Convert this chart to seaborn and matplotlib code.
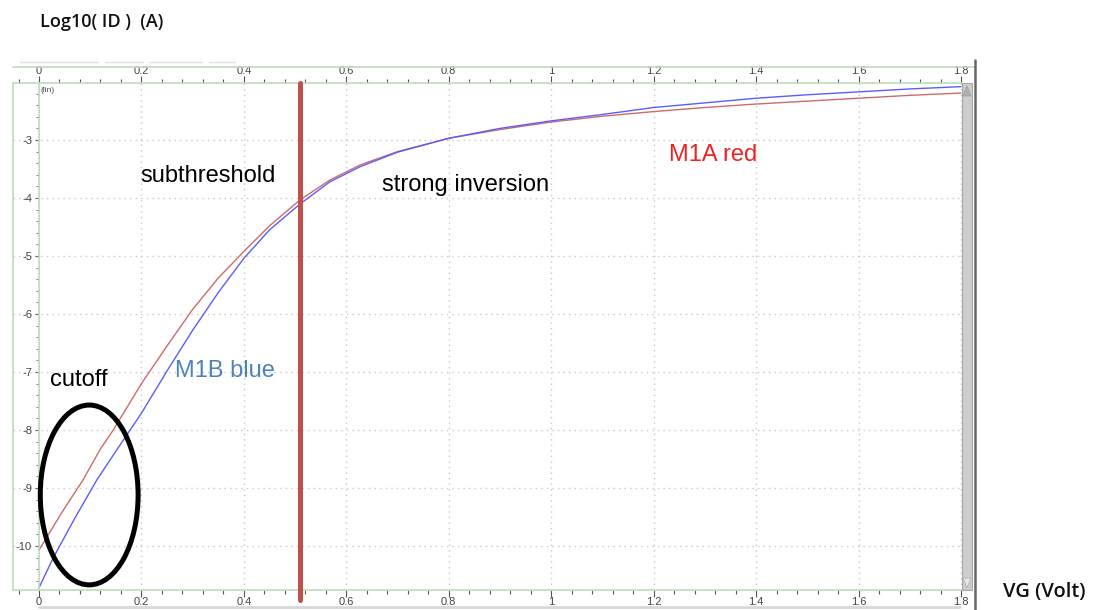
import numpy as np
import pandas as pd
import matplotlib
matplotlib.use("Agg")
import matplotlib.pyplot as plt
import seaborn as sns
from matplotlib.patches import Ellipse, Rectangle, Polygon
from matplotlib.lines import Line2D
from matplotlib.ticker import MultipleLocator, FixedLocator

# ---------------- data ----------------
vg_red = [0.0, 0.044, 0.086, 0.119, 0.145, 0.2, 0.25, 0.3, 0.35, 0.4, 0.45, 0.51,
          0.568, 0.627, 0.7, 0.8, 0.9, 1.0, 1.1, 1.2, 1.3, 1.4, 1.5, 1.6, 1.7, 1.8]
log_id_red = [-10.07, -9.43, -8.86, -8.34, -8.0, -7.2, -6.55, -5.92, -5.38, -4.92, -4.48, -4.03,
              -3.69, -3.43, -3.2, -2.97, -2.82, -2.69, -2.59, -2.51, -2.44, -2.38, -2.33,
              -2.28, -2.23, -2.19]
vg_blue = [0.0, 0.028, 0.07, 0.113, 0.152, 0.2, 0.25, 0.3, 0.35, 0.4, 0.45, 0.51,
           0.568, 0.627, 0.7, 0.8, 0.9, 1.0, 1.1, 1.2, 1.3, 1.4, 1.5, 1.6, 1.7, 1.8]
log_id_blue = [-10.72, -10.2, -9.52, -8.86, -8.34, -7.71, -6.98, -6.28, -5.63, -5.04, -4.55, -4.1,
               -3.72, -3.46, -3.21, -2.97, -2.8, -2.67, -2.56, -2.44, -2.36, -2.28,
               -2.22, -2.17, -2.12, -2.08]
series_names = ["M1A red", "M1B blue"]
x_ticks = [0, 0.2, 0.4, 0.6, 0.8, 1, 1.2, 1.4, 1.6, 1.8]
x_tick_labels = ["0", "0.2", "0.4", "0.6", "0.8", "1", "1.2", "1.4", "1.6", "1.8"]
y_ticks = [-10, -9, -8, -7, -6, -5, -4, -3]
vth = 0.51
region_labels = ["subthreshold", "strong inversion", "cutoff"]

df = pd.concat([
    pd.DataFrame({"VG": vg_red, "logID": log_id_red, "dev": series_names[0]}),
    pd.DataFrame({"VG": vg_blue, "logID": log_id_blue, "dev": series_names[1]}),
])

# ---------------- figure ----------------
sns.set_style("white")
plt.rcParams["font.family"] = ["Liberation Sans", "DejaVu Sans"]
plt.rcParams["axes.unicode_minus"] = False
W, H = 1096, 610
fig = plt.figure(figsize=(W / 100, H / 100), dpi=100)

def fx(px):
    return px / W

def fy(py):
    return 1 - py / H

L, R, T, B = 13, 962, 83, 590
ax = fig.add_axes([fx(L), fy(B), fx(R) - fx(L), fy(T) - fy(B)])

sns.lineplot(data=df, x="VG", y="logID", hue="dev",
             palette={series_names[0]: "#cc6b6b", series_names[1]: "#5c5cff"},
             linewidth=1.0, legend=False, ax=ax, sort=True, estimator=None)

px_per_unit = (961 - 39) / 1.8
ax.set_xlim(-(39 - L) / px_per_unit, (R - 39) / px_per_unit)
ax.set_ylim(-3 - (B - 140) / 58, -3 + (140 - T) / 58)
ax.set_xlabel("")
ax.set_ylabel("")

green = "#bcdcbc"
for s in ["top", "bottom", "right", "left"]:
    ax.spines[s].set_color(green)
    ax.spines[s].set_linewidth(1.2)
ax.spines["right"].set_visible(False)
ax.spines["left"].set_position(("data", 0))
ax.add_line(Line2D([0, 0], [0, 1], transform=ax.transAxes, color=green, lw=1.2, clip_on=False))

ax.xaxis.set_major_locator(FixedLocator(x_ticks))
ax.set_xticklabels(x_tick_labels)
ax.xaxis.set_minor_locator(MultipleLocator(0.04))
ax.yaxis.set_major_locator(FixedLocator(y_ticks))
ax.yaxis.set_minor_locator(MultipleLocator(0.2))

ax.tick_params(axis="x", which="both", top=True, bottom=True, labeltop=True, labelbottom=True,
               direction="out", color="#555555", labelsize=8, labelcolor="#444444")
ax.tick_params(axis="x", which="major", length=5, width=0.8, pad=0)
ax.tick_params(axis="x", which="minor", length=3, width=0.8)
ax.tick_params(axis="y", which="both", left=True, direction="out", color="#666666",
               labelsize=8, labelcolor="#444444")
ax.tick_params(axis="y", which="major", length=3, width=0.8, pad=2)
ax.tick_params(axis="y", which="minor", length=2, width=0.6)

ax.grid(True, which="major", color="#c8c8c8", linestyle=(0, (1, 3)), linewidth=1.0)
ax.set_axisbelow(True)

ax.text(0.002, -2.15, "(lin)", fontsize=6, color="#444444", ha="left", va="center")

# threshold line
ax.axvline(vth, ymin=-0.02, ymax=1, color="#c0504d", lw=3.6, clip_on=False, zorder=5)

# cutoff ellipse
ax.add_patch(Ellipse((0.098, -9.12), 0.191, 3.1, fill=False, ec="black", lw=3.6, zorder=6))

# annotations
fs = 17
ax.text(0.197, -3.62, region_labels[0], fontsize=fs, color="black", va="center", ha="left")
ax.text(0.67, -3.77, region_labels[1], fontsize=fs, color="black", va="center", ha="left")
ax.text(0.022, -7.13, region_labels[2], fontsize=fs, color="black", va="center", ha="left")
ax.text(1.23, -3.26, series_names[0], fontsize=fs, color="#ee2222", va="center", ha="left")
ax.text(0.265, -6.98, series_names[1], fontsize=fs, color="#4f81bd", va="center", ha="left")

# axis titles
fig.text(fx(40), fy(22), "Log10( ID )  (A)", fontsize=13, fontweight="semibold",
         family="Open Sans", color="#111111", va="center", ha="left")
fig.text(fx(1003), fy(592), "VG (Volt)", fontsize=14.5, fontweight="semibold",
         family="Open Sans", color="#111111", va="center", ha="left")

# decorations: top band line, scrollbar, right border
fig.add_artist(Line2D([fx(13), fx(975)], [fy(67), fy(67)], color=green, lw=1.2))
for x0, x1 in [(20, 98), (105, 143), (150, 202), (209, 235)]:
    fig.add_artist(Line2D([fx(x0), fx(x1)], [fy(62), fy(62)], color="#e0e0e0", lw=1.0))
fig.add_artist(Rectangle((fx(962), fy(590)), fx(972) - fx(962), fy(83) - fy(590),
                         transform=fig.transFigure, fc="#cdcdcd", ec="#a8a8a8", lw=0.8))
fig.add_artist(Polygon([[fx(963), fy(96)], [fx(971), fy(96)], [fx(967), fy(86)]],
                       closed=True, transform=fig.transFigure, fc="#b0b0b0", ec="#999999", lw=0.5))
fig.add_artist(Polygon([[fx(963), fy(578)], [fx(971), fy(578)], [fx(967), fy(588)]],
                       closed=True, transform=fig.transFigure, fc="#e8e8e8", ec="#aaaaaa", lw=0.5))
fig.add_artist(Line2D([fx(975), fx(975)], [fy(60), fy(610)], color="#666666", lw=1.8))
fig.add_artist(Line2D([fx(39), fx(960)], [fy(607), fy(607)], color="#d8d8d8", lw=2.0))

fig.savefig("out.png", dpi=100)
